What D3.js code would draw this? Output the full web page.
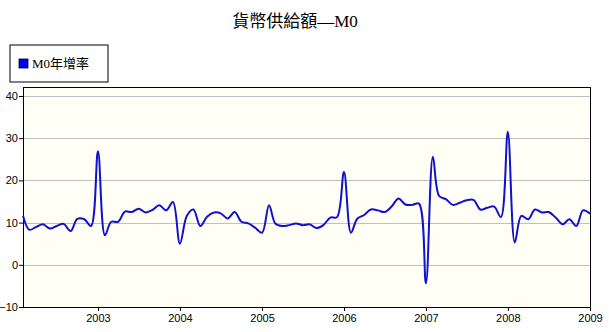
<!DOCTYPE html>
<html>
<head>
<meta charset="utf-8">
<script src="https://cdn.jsdelivr.net/npm/d3@7"></script>
<style>
  body { margin: 0; background: #fff; }
  svg { display: block; }
  .axis text { font-family: Arial, "Liberation Sans", sans-serif; font-size: 11px; fill: #000; }
</style>
</head>
<body>
<div id="container"></div>
<script>
// monthly M0 yoy growth, Feb 2002 .. Jan 2009
const startMonth = "2002-02";
const m0Growth = [
    11.6, 8.3, 9.0, 9.6, 8.6, 9.2, 9.7, 8.0, 10.9, 10.8, 9.2,
    26.9, 7.0, 10.2, 10.2, 12.6, 12.5, 13.3, 12.4, 13.0, 14.1, 12.9, 14.9,
    5.0, 11.6, 13.1, 9.2, 11.4, 12.4, 12.2, 11.0, 12.5, 10.2, 9.8, 8.8,
    7.6, 14.1, 9.8, 9.2, 9.4, 9.8, 9.4, 9.6, 8.7, 9.4, 11.2, 11.3,
    22.0, 7.6, 10.9, 11.8, 13.1, 12.9, 12.5, 13.8, 15.7, 14.3, 14.2, 14.5,
    -4.4, 25.6, 16.3, 15.5, 14.2, 14.7, 15.3, 15.4, 13.1, 13.5, 13.8, 11.3,
    31.5, 5.3, 11.6, 10.8, 13.1, 12.4, 12.5, 11.2, 9.6, 10.8, 9.2, 12.9,
    12.1
];
const yTicks = [-10, 0, 10, 20, 30, 40];
const xTickYears = [2003, 2004, 2005, 2006, 2007, 2008, 2009];
const chartTitle = "貨幣供給額—M0";
const seriesName = "M0年增率";

const width = 609, height = 332;
const plot = { left: 23, right: 590, top: 87, bottom: 307 };

const t0 = d3.timeParse("%Y-%m")(startMonth);
const data = m0Growth.map((v, i) => ({ time: d3.timeMonth.offset(t0, i), value: v }));

const svg = d3.select("#container").append("svg")
    .attr("width", width)
    .attr("height", height);

const xScale = d3.scaleTime()
    .domain([t0, data[data.length - 1].time])
    .range([plot.left, plot.right]);
const yScale = d3.scaleLinear()
    .domain([-10, 40])
    .range([plot.bottom, 96]);

// title
svg.append("text")
    .attr("x", 295)
    .attr("y", 27)
    .attr("text-anchor", "middle")
    .style("font-family", "'Liberation Serif', 'Noto Sans CJK TC', serif")
    .style("font-size", "17px")
    .text(chartTitle);

// legend
const legend = svg.append("g").attr("transform", "translate(10,45)");
legend.append("rect")
    .attr("width", 98).attr("height", 37)
    .attr("fill", "#fff").attr("stroke", "#000");
legend.append("rect")
    .attr("x", 9).attr("y", 14).attr("width", 9).attr("height", 9)
    .attr("fill", "#0000ff").attr("stroke", "#000").attr("stroke-width", 0.8);
legend.append("text")
    .attr("x", 22).attr("y", 23)
    .style("font-family", "'Liberation Serif', 'Noto Sans CJK TC', serif")
    .style("font-size", "13px")
    .text(seriesName);

// plot background
svg.append("rect")
    .attr("x", plot.left).attr("y", plot.top)
    .attr("width", plot.right - plot.left).attr("height", plot.bottom - plot.top)
    .attr("fill", "#fffff5");

// gridlines
svg.append("g")
    .selectAll("line")
    .data(yTicks.filter(d => d > -10))
    .join("line")
    .attr("x1", plot.left).attr("x2", plot.right)
    .attr("y1", d => Math.round(yScale(d)) + 0.5)
    .attr("y2", d => Math.round(yScale(d)) + 0.5)
    .attr("stroke", "#c0c0c0");

// axes
const yAxis = d3.axisLeft(yScale).tickValues(yTicks).tickSize(4).tickPadding(1);
svg.append("g")
    .attr("class", "axis")
    .attr("transform", `translate(${plot.left},0)`)
    .call(yAxis)
    .call(g => g.select(".domain").remove());

const xAxis = d3.axisBottom(xScale)
    .tickValues(xTickYears.map(y => new Date(y, 0, 1)))
    .tickFormat(d3.timeFormat("%Y"))
    .tickSize(4).tickPadding(3);
svg.append("g")
    .attr("class", "axis")
    .attr("transform", `translate(0,${plot.bottom})`)
    .call(xAxis)
    .call(g => g.select(".domain").remove());

// frame
svg.append("rect")
    .attr("x", plot.left + 0.5).attr("y", plot.top + 0.5)
    .attr("width", plot.right - plot.left).attr("height", plot.bottom - plot.top)
    .attr("fill", "none").attr("stroke", "#000");

// series line
const line = d3.line()
    .x(d => xScale(d.time))
    .y(d => yScale(d.value))
    .curve(d3.curveCatmullRom.alpha(0.5));

svg.append("path")
    .datum(data)
    .attr("fill", "none")
    .attr("stroke", "#1010d0")
    .attr("stroke-width", 2)
    .attr("d", line);
</script>
</body>
</html>
